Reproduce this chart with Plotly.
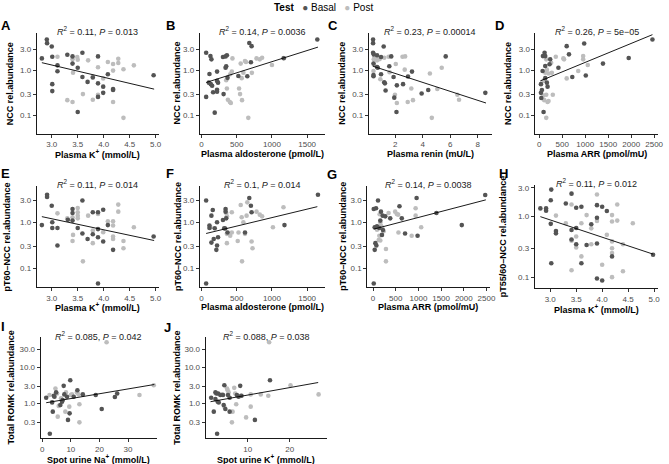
import plotly.graph_objects as go

W, H = 669, 464
FONT = "Liberation Sans, Arial, sans-serif"
BASAL_COLOR = "#545454"
POST_COLOR = "#bdbdbd"
TICK_COLOR = "#4d4d4d"

# ---- values, (x, y) pairs ----
A_BASAL = [(2.81, 1.87), (2.905, 4.9), (2.91, 4.08), (3.0, 3.44), (3.01, 2.04), (3.11, 1.31), (3.11, 0.97),
           (3.01, 0.50), (3.01, 0.35), (3.30, 2.25), (3.40, 2.07), (3.40, 1.43), (3.5, 1.16), (3.5, 0.12),
           (3.59, 2.5), (3.59, 0.72), (3.69, 0.56), (3.79, 0.70), (3.89, 2.07), (3.89, 0.52), (3.89, 0.26),
           (3.99, 0.44), (3.99, 0.32), (4.08, 0.83), (4.18, 0.39), (4.18, 0.37), (4.96, 0.79)]
A_POST = [(3.11, 2.04), (3.30, 0.22), (3.40, 1.78), (3.41, 0.90), (3.40, 0.20), (3.49, 2.0), (3.5, 1.75),
          (3.60, 0.30), (3.70, 1.69), (3.79, 0.74), (3.79, 0.225), (3.89, 1.19), (3.89, 0.29), (3.99, 0.67),
          (4.08, 1.55), (4.18, 1.40), (4.18, 1.0), (4.18, 0.20), (4.28, 1.84), (4.28, 1.48), (4.38, 1.07),
          (4.38, 0.089), (4.58, 1.31)]
A_FIT = [(2.81, 1.50), (4.97, 0.387)]

B_BASAL = [(65, 2.5), (65, 0.26), (112, 0.84), (126, 2.1), (140, 1.78), (103, 0.54), (131, 0.50), (150, 0.46),
           (164, 0.33), (187, 0.116), (220, 0.59), (220, 0.95), (220, 0.375), (220, 0.34), (234, 0.54),
           (304, 2.0), (313, 0.30), (341, 2.07), (360, 2.2), (341, 1.16), (350, 1.25), (369, 0.69), (523, 0.76),
           (650, 0.75), (678, 4.1), (711, 3.5), (701, 1.53), (1168, 1.88), (1645, 4.9)]
B_POST = [(350, 0.61), (360, 0.40), (374, 0.225), (402, 0.2), (416, 0.19), (407, 0.83), (430, 0.95),
          (439, 1.87), (533, 0.40), (547, 0.30), (556, 1.43), (575, 0.22), (570, 0.68), (594, 0.9), (631, 1.55),
          (617, 1.63), (664, 0.089), (715, 0.89), (781, 1.87), (827, 1.78), (860, 1.93), (1000, 1.33),
          (1164, 1.9)]
B_FIT = [(65, 0.544), (1654, 3.33)]

C_BASAL = [(0.39, 4.9), (0.39, 4.08), (1.16, 3.44), (0.39, 2.5), (0.44, 2.3), (0.68, 2.2), (0.97, 2.0),
           (1.71, 2.07), (0.42, 1.43), (0.68, 1.2), (0.73, 1.16), (0.42, 0.80), (0.42, 0.75), (0.97, 0.83),
           (1.2, 0.55), (1.25, 0.52), (1.3, 0.36), (1.57, 1.25), (1.88, 0.72), (2.12, 0.47), (1.93, 0.25),
           (2.09, 0.12), (2.57, 0.50), (2.93, 0.74), (3.22, 0.95), (3.92, 0.31), (4.40, 0.37), (5.67, 2.07),
           (8.55, 0.32)]
C_POST = [(0.46, 2.1), (0.59, 2.1), (0.68, 2.04), (1.2, 1.93), (1.52, 2.04), (2.53, 2.04), (2.72, 2.07),
          (0.44, 1.78), (0.68, 1.69), (0.87, 1.8), (0.46, 1.33), (0.42, 0.98), (0.92, 0.64), (1.59, 0.92),
          (2.04, 1.40), (1.98, 0.29), (2.12, 0.19), (2.69, 1.05), (3.17, 0.40), (2.91, 0.20), (3.29, 0.22),
          (4.52, 0.86), (4.66, 0.089), (5.06, 0.39), (5.38, 1.16), (6.52, 0.29), (6.64, 0.225)]
C_FIT = [(0.39, 1.25), (8.6, 0.19)]

D_BASAL = [(36, 0.50), (36, 0.32), (43, 0.246), (57, 0.37), (72, 0.98), (79, 2.1), (93, 0.12), (115, 2.5),
           (129, 2.1), (129, 1.27), (129, 0.68), (165, 0.54), (180, 0.44), (223, 1.38), (237, 1.78),
           (416, 1.16), (596, 3.5), (646, 2.3), (718, 0.72), (977, 4.0), (1012, 0.78), (1386, 1.43),
           (1946, 1.9), (2463, 4.9)]
D_POST = [(93, 0.59), (93, 0.28), (108, 0.22), (151, 0.089), (151, 1.78), (129, 0.9), (151, 0.29), (180, 0.20),
          (201, 0.21), (165, 1.05), (201, 0.86), (258, 1.5), (273, 0.89), (294, 0.29), (359, 2.04), (524, 1.87),
          (539, 1.78), (596, 0.67), (847, 0.98), (955, 2.1), (955, 1.78), (1055, 1.33)]
D_FIT = [(22, 0.59), (2463, 6.3)]

E_BASAL = [(2.81, 0.87), (2.91, 4.0), (2.91, 3.6), (3.0, 2.3), (3.01, 1.0), (3.01, 0.75), (3.11, 0.75),
           (3.11, 0.31), (3.31, 1.14), (3.40, 1.96), (3.40, 1.6), (3.40, 1.09), (3.5, 0.75), (3.59, 3.0),
           (3.59, 0.57), (3.69, 0.43), (3.79, 1.66), (3.79, 0.55), (3.89, 1.66), (3.89, 0.71), (3.89, 0.47),
           (3.89, 0.046), (3.99, 1.89), (3.99, 0.38), (4.08, 0.87), (4.18, 0.25), (4.96, 0.49)]
E_POST = [(3.11, 1.57), (3.30, 1.22), (3.40, 1.29), (3.41, 0.53), (3.40, 0.39), (3.5, 2.06), (3.5, 1.66),
          (3.5, 1.4), (3.5, 1.22), (3.60, 0.14), (3.70, 1.4), (3.79, 0.66), (3.79, 0.35), (3.89, 1.52),
          (3.99, 0.61), (4.08, 1.05), (4.18, 1.05), (4.18, 0.85), (4.18, 0.49), (4.18, 0.43), (4.28, 2.44),
          (4.28, 1.71), (4.38, 0.39), (4.38, 0.27), (4.58, 0.78)]
E_FIT = [(2.81, 1.33), (4.97, 0.40)]

F_BASAL = [(65, 3.0), (65, 0.046), (112, 0.85), (112, 0.75), (140, 1.4), (159, 1.86), (140, 0.36), (173, 0.43),
           (187, 0.74), (220, 1.0), (220, 0.31), (210, 0.25), (234, 0.47), (304, 1.12), (322, 0.74),
           (341, 1.96), (341, 1.71), (350, 1.22), (369, 0.60), (336, 0.73), (617, 0.6), (678, 3.4), (701, 2.3),
           (711, 1.66), (1178, 0.87), (1654, 4.0)]
F_POST = [(126, 0.78), (350, 1.6), (360, 1.35), (360, 0.56), (360, 0.35), (407, 0.51), (430, 1.66), (430, 0.6),
          (514, 0.39), (556, 2.4), (575, 0.14), (570, 1.29), (594, 1.0), (617, 0.56), (525, 0.6), (640, 1.4),
          (650, 2.73), (711, 0.38), (724, 0.27), (781, 1.71), (827, 1.47), (860, 1.35), (1014, 0.78),
          (1164, 2.13)]
F_FIT = [(65, 0.57), (1645, 2.2)]

G_BASAL = [(15, 1.96), (36, 0.78), (36, 0.25), (51, 0.35), (65, 2.03), (15, 0.046), (73, 0.31), (87, 0.82),
           (109, 3.0), (138, 0.75), (160, 1.09), (174, 1.71), (196, 0.53), (218, 0.68), (211, 1.4), (269, 1.35),
           (378, 1.22), (582, 2.24), (633, 1.22), (705, 0.57), (960, 3.4), (981, 0.51), (1396, 1.6),
           (1956, 0.87), (2472, 3.95)]
G_POST = [(87, 0.69), (124, 0.41), (138, 0.51), (160, 0.40), (145, 1.5), (160, 1.0), (174, 0.85), (196, 0.78),
          (233, 0.64), (284, 0.26), (284, 0.14), (342, 1.6), (487, 1.71), (523, 1.52), (553, 1.47), (560, 0.6),
          (851, 0.51), (938, 2.03), (938, 1.4), (1061, 0.78)]
G_FIT = [(15, 0.71), (2486, 3.1)]

H_BASAL = [(2.81, 1.37), (2.92, 1.37), (2.92, 1.25), (3.02, 2.8), (3.01, 1.87), (3.01, 0.76), (3.02, 0.17),
           (3.11, 0.58), (3.11, 0.53), (3.30, 1.65), (3.41, 2.4), (3.41, 0.60), (3.41, 0.42), (3.50, 1.40),
           (3.50, 0.65), (3.5, 0.35), (3.60, 1.46), (3.60, 0.17), (3.70, 0.34), (3.79, 0.75), (3.90, 1.55),
           (3.90, 0.96), (3.90, 0.36), (3.90, 0.095), (4.0, 1.46), (4.0, 0.088), (4.09, 1.24), (4.19, 0.22),
           (4.98, 0.235)]
H_POST = [(3.11, 1.04), (3.30, 0.78), (3.41, 1.59), (3.41, 0.40), (3.41, 0.13), (3.5, 0.47), (3.5, 0.31),
          (3.60, 0.78), (3.60, 0.22), (3.70, 1.06), (3.79, 0.64), (3.79, 0.35), (3.90, 2.32), (3.90, 0.85),
          (4.0, 0.16), (4.09, 0.50), (4.19, 1.06), (4.19, 0.83), (4.19, 0.39), (4.19, 0.30), (4.19, 0.25),
          (4.19, 0.1), (4.29, 1.59), (4.29, 0.86), (4.40, 0.35), (4.40, 0.125), (4.59, 0.78)]
H_FIT = [(2.81, 1.0), (4.98, 0.24)]

I_BASAL = [(1.38, 1.43), (2.65, 0.146), (3.46, 1.06), (3.69, 0.59), (4.04, 1.62), (4.27, 1.52), (4.84, 2.0),
           (6.34, 0.9), (6.92, 1.11), (7.15, 1.23), (7.5, 3.03), (7.73, 1.76), (8.65, 1.52), (9.0, 0.35),
           (9.57, 0.53), (9.80, 4.33), (11.0, 1.52), (12.3, 2.3), (14.2, 1.76), (18.7, 1.69), (20.8, 0.7),
           (25.4, 1.49), (26.2, 1.87)]
I_POST = [(2.54, 1.69), (4.61, 2.57), (5.19, 1.87), (5.42, 0.43), (5.77, 0.85), (6.57, 1.37), (8.07, 0.59),
          (8.3, 2.0), (9.46, 0.81), (10.0, 1.69), (10.4, 1.76), (12.1, 2.0), (12.7, 1.76), (13.0, 0.94),
          (13.0, 0.30), (22.5, 48), (34.0, 1.69), (39.0, 3.16)]
I_FIT = [(1.38, 1.04), (39.2, 3.3)]

J_BASAL = [(1.26, 1.43), (1.89, 0.59), (2.28, 2.0), (2.28, 1.31), (2.52, 1.87), (2.68, 0.146), (2.83, 1.11),
           (2.91, 1.87), (3.07, 1.06), (3.46, 1.69), (4.09, 1.69), (4.25, 0.9), (4.65, 0.7), (4.41, 3.16),
           (5.28, 1.69), (5.67, 0.59), (5.67, 1.43), (7.4, 1.69), (7.8, 1.52), (8.19, 3.03), (8.43, 1.62),
           (11.7, 0.35), (15.3, 4.33)]
J_POST = [(3.86, 1.76), (4.41, 0.81), (5.04, 2.57), (5.2, 2.3), (5.43, 2.0), (6.22, 0.30), (6.38, 0.59),
          (6.77, 2.67), (7.0, 1.87), (7.24, 0.94), (8.58, 1.62), (9.6, 0.41), (10.7, 0.81), (10.7, 1.76),
          (13.1, 1.76), (15.1, 48), (14.9, 1.62), (20.2, 3.16), (26.9, 1.76)]
J_FIT = [(1.1, 1.11), (26.8, 3.74)]

STATS = {
    "A": ("0.11", "0.013"), "B": ("0.14", "0.0036"), "C": ("0.23", "0.00014"), "D": ("0.26", "5e\u221205"),
    "E": ("0.11", "0.014"), "F": ("0.1", "0.014"), "G": ("0.14", "0.0038"), "H": ("0.11", "0.012"),
    "I": ("0.085", "0.042"), "J": ("0.088", "0.038"),
}

Y_TICKS_NCC = [0.1, 0.3, 1, 3]
Y_TICKTEXT_NCC = ["0.1", "0.3", "1.0", "3.0"]
Y_TICKS_ROMK = [0.3, 1, 3, 10, 30]
Y_TICKTEXT_ROMK = ["0.3", "1.0", "3.0", "10.0", "30.0"]
X_TICKS_K = [3.0, 3.5, 4.0, 4.5, 5.0]
X_TICKTEXT_K = ["3.0", "3.5", "4.0", "4.5", "5.0"]
X_TICKS_ALDO = [0, 500, 1000, 1500]
X_TICKS_RENIN = [2, 4, 6, 8]
X_TICKS_ARR = [0, 500, 1000, 1500, 2000, 2500]
X_TICKS_NA = [0, 10, 20, 30]
X_TICKS_UK = [10, 20]

XT_K = "Plasma K<sup>+</sup> (mmol/L)"
XT_ALDO = "Plasma aldosterone (pmol/L)"
XT_RENIN = "Plasma renin (mU/L)"
XT_ARR = "Plasma ARR (pmol/mU)"
YT_NCC = "NCC rel.abundance"
YT_PT60 = "pT60\u2013NCC rel.abundance"
YT_PT55 = "pT55/60\u2013NCC rel.abundance"
YT_ROMK = "Total ROMK rel.abundance"

K_TICKS = (X_TICKS_K, X_TICKTEXT_K)
NCC_TICKS = (Y_TICKS_NCC, Y_TICKTEXT_NCC)
ROMK_TICKS = (Y_TICKS_ROMK, Y_TICKTEXT_ROMK)


def plain(vals):
    return (vals, [str(v) for v in vals])


# letter, basal, post, fit, x title, y title, x ticks, y ticks,
# box px (left, right, top, bottom), x range, log10 y range, letter px, y-title x px, x-title gap px
PANELS = [
    ("A", A_BASAL, A_POST, A_FIT, XT_K, YT_NCC, K_TICKS, NCC_TICKS,
     (36, 160, 32, 133), (2.709, 5.07), (-1.404, 0.838), (5.5, 25), 9, 20),
    ("B", B_BASAL, B_POST, B_FIT, XT_ALDO, YT_NCC, plain(X_TICKS_ALDO), NCC_TICKS,
     (200.7, 327, 32, 133), (-28, 1748), (-1.404, 0.838), (171, 25), 178, 20),
    ("C", C_BASAL, C_POST, C_FIT, XT_RENIN, YT_NCC, plain(X_TICKS_RENIN), NCC_TICKS,
     (371.7, 495.7, 32, 133), (0.08, 9.0), (-1.404, 0.838), (336, 25), 345, 20),
    ("D", D_BASAL, D_POST, D_FIT, XT_ARR, YT_NCC, plain(X_TICKS_ARR), NCC_TICKS,
     (540, 664, 32, 133), (-86, 2585), (-1.404, 0.838), (504, 25), 513, 20),
    ("E", E_BASAL, E_POST, E_FIT, XT_K, YT_PT60, K_TICKS, NCC_TICKS,
     (36, 160, 185, 287), (2.709, 5.07), (-1.423, 0.803), (5, 172.5), 7, 20),
    ("F", F_BASAL, F_POST, F_FIT, XT_ALDO, YT_PT60, plain(X_TICKS_ALDO), NCC_TICKS,
     (200.7, 327, 185, 287), (-28, 1748), (-1.423, 0.803), (171, 172.5), 179.5, 20),
    ("G", G_BASAL, G_POST, G_FIT, XT_ARR, YT_PT60, plain(X_TICKS_ARR), NCC_TICKS,
     (370, 494, 185, 287), (-131, 2574), (-1.423, 0.803), (335, 174), 346, 20),
    ("H", H_BASAL, H_POST, H_FIT, XT_K, YT_PT55, K_TICKS, NCC_TICKS,
     (539.3, 664, 184, 288), (2.70, 5.076), (-1.186, 0.53), (507.5, 172.5), 508, 21),
    ("I", I_BASAL, I_POST, I_FIT, "Spot urine Na<sup>+</sup> (mmol/L)", YT_ROMK, plain(X_TICKS_NA), ROMK_TICKS,
     (40, 158, 337, 438), (-0.58, 40.25), (-0.955, 1.818), (2.5, 326), 10, 20.5),
    ("J", J_BASAL, J_POST, J_FIT, "Spot urine K<sup>+</sup> (mmol/L)", YT_ROMK, plain(X_TICKS_UK), ROMK_TICKS,
     (206.7, 329, 337, 438), (-0.08, 28.8), (-0.955, 1.818), (168.5, 327), 178, 20.5),
]


def px(x):
    return x / W


def py(y):
    return 1 - y / H


fig = go.Figure()
layout = {}
annotations = []

for i, (letter, basal, post, fit, xtitle, ytitle, xt, yt, box, xr, yr, lpos, ytx, xgap) in enumerate(PANELS):
    n = i + 1
    xa, ya = f"x{n}", f"y{n}"
    left, right, top, bottom = box
    for pts, color in ((post, POST_COLOR), (basal, BASAL_COLOR)):
        fig.add_trace(go.Scatter(
            x=[p[0] for p in pts], y=[p[1] for p in pts], mode="markers",
            marker=dict(size=4.6, color=color), xaxis=xa, yaxis=ya, showlegend=False,
        ))
    fig.add_trace(go.Scatter(
        x=[p[0] for p in fit], y=[p[1] for p in fit], mode="lines",
        line=dict(color="black", width=0.9), xaxis=xa, yaxis=ya, showlegend=False,
    ))
    common = dict(
        showgrid=False, zeroline=False, showline=True, linecolor="#1a1a1a", linewidth=0.8,
        ticks="outside", ticklen=3, tickwidth=0.8, tickcolor="#333333",
        tickfont=dict(size=8, color=TICK_COLOR, family=FONT),
    )
    layout["xaxis" if n == 1 else f"xaxis{n}"] = dict(
        common, domain=[px(left), px(right)], range=list(xr), anchor=ya,
        tickmode="array", tickvals=xt[0], ticktext=xt[1],
    )
    layout["yaxis" if n == 1 else f"yaxis{n}"] = dict(
        common, domain=[py(bottom), py(top)], type="log", range=list(yr), anchor=xa,
        tickmode="array", tickvals=yt[0], ticktext=yt[1],
    )
    cx = (left + right) / 2
    r2, pv = STATS[letter]
    annotations += [
        dict(text=f"<b>{letter}</b>", x=px(lpos[0]), y=py(lpos[1]), font=dict(size=13, color="black")),
        dict(text=f"<i>R</i><sup>2</sup> = {r2}, <i>P</i> = {pv}", x=px(cx), y=py(top - 1.5),
             font=dict(size=9, color="#1a1a1a")),
        dict(text=f"<b>{xtitle}</b>", x=px(cx), y=py(bottom + xgap), font=dict(size=9, color="black")),
        dict(text=f"<b>{ytitle}</b>", x=px(ytx), y=py((top + bottom) / 2), textangle=-90,
             font=dict(size=9, color="black")),
    ]

legend_text = (f"<b>Test</b>\u00a0\u00a0\u00a0<span style='color:{BASAL_COLOR}'>\u25cf</span>\u00a0Basal"
               f"\u00a0\u00a0\u00a0<span style='color:{POST_COLOR}'>\u25cf</span>\u00a0Post")
annotations.append(dict(text=legend_text, x=px(325.5), y=py(7), font=dict(size=10, color="black")))

for a in annotations:
    a.update(xref="paper", yref="paper", xanchor="center", yanchor="middle", showarrow=False)
    a["font"]["family"] = FONT

fig.update_layout(
    width=W, height=H, margin=dict(l=0, r=0, t=0, b=0),
    paper_bgcolor="white", plot_bgcolor="white",
    font=dict(family=FONT), annotations=annotations, **layout,
)

fig.write_html(
    "out.html",
    config={"displayModeBar": False},
    post_script="document.body.style.margin='0';",
)
